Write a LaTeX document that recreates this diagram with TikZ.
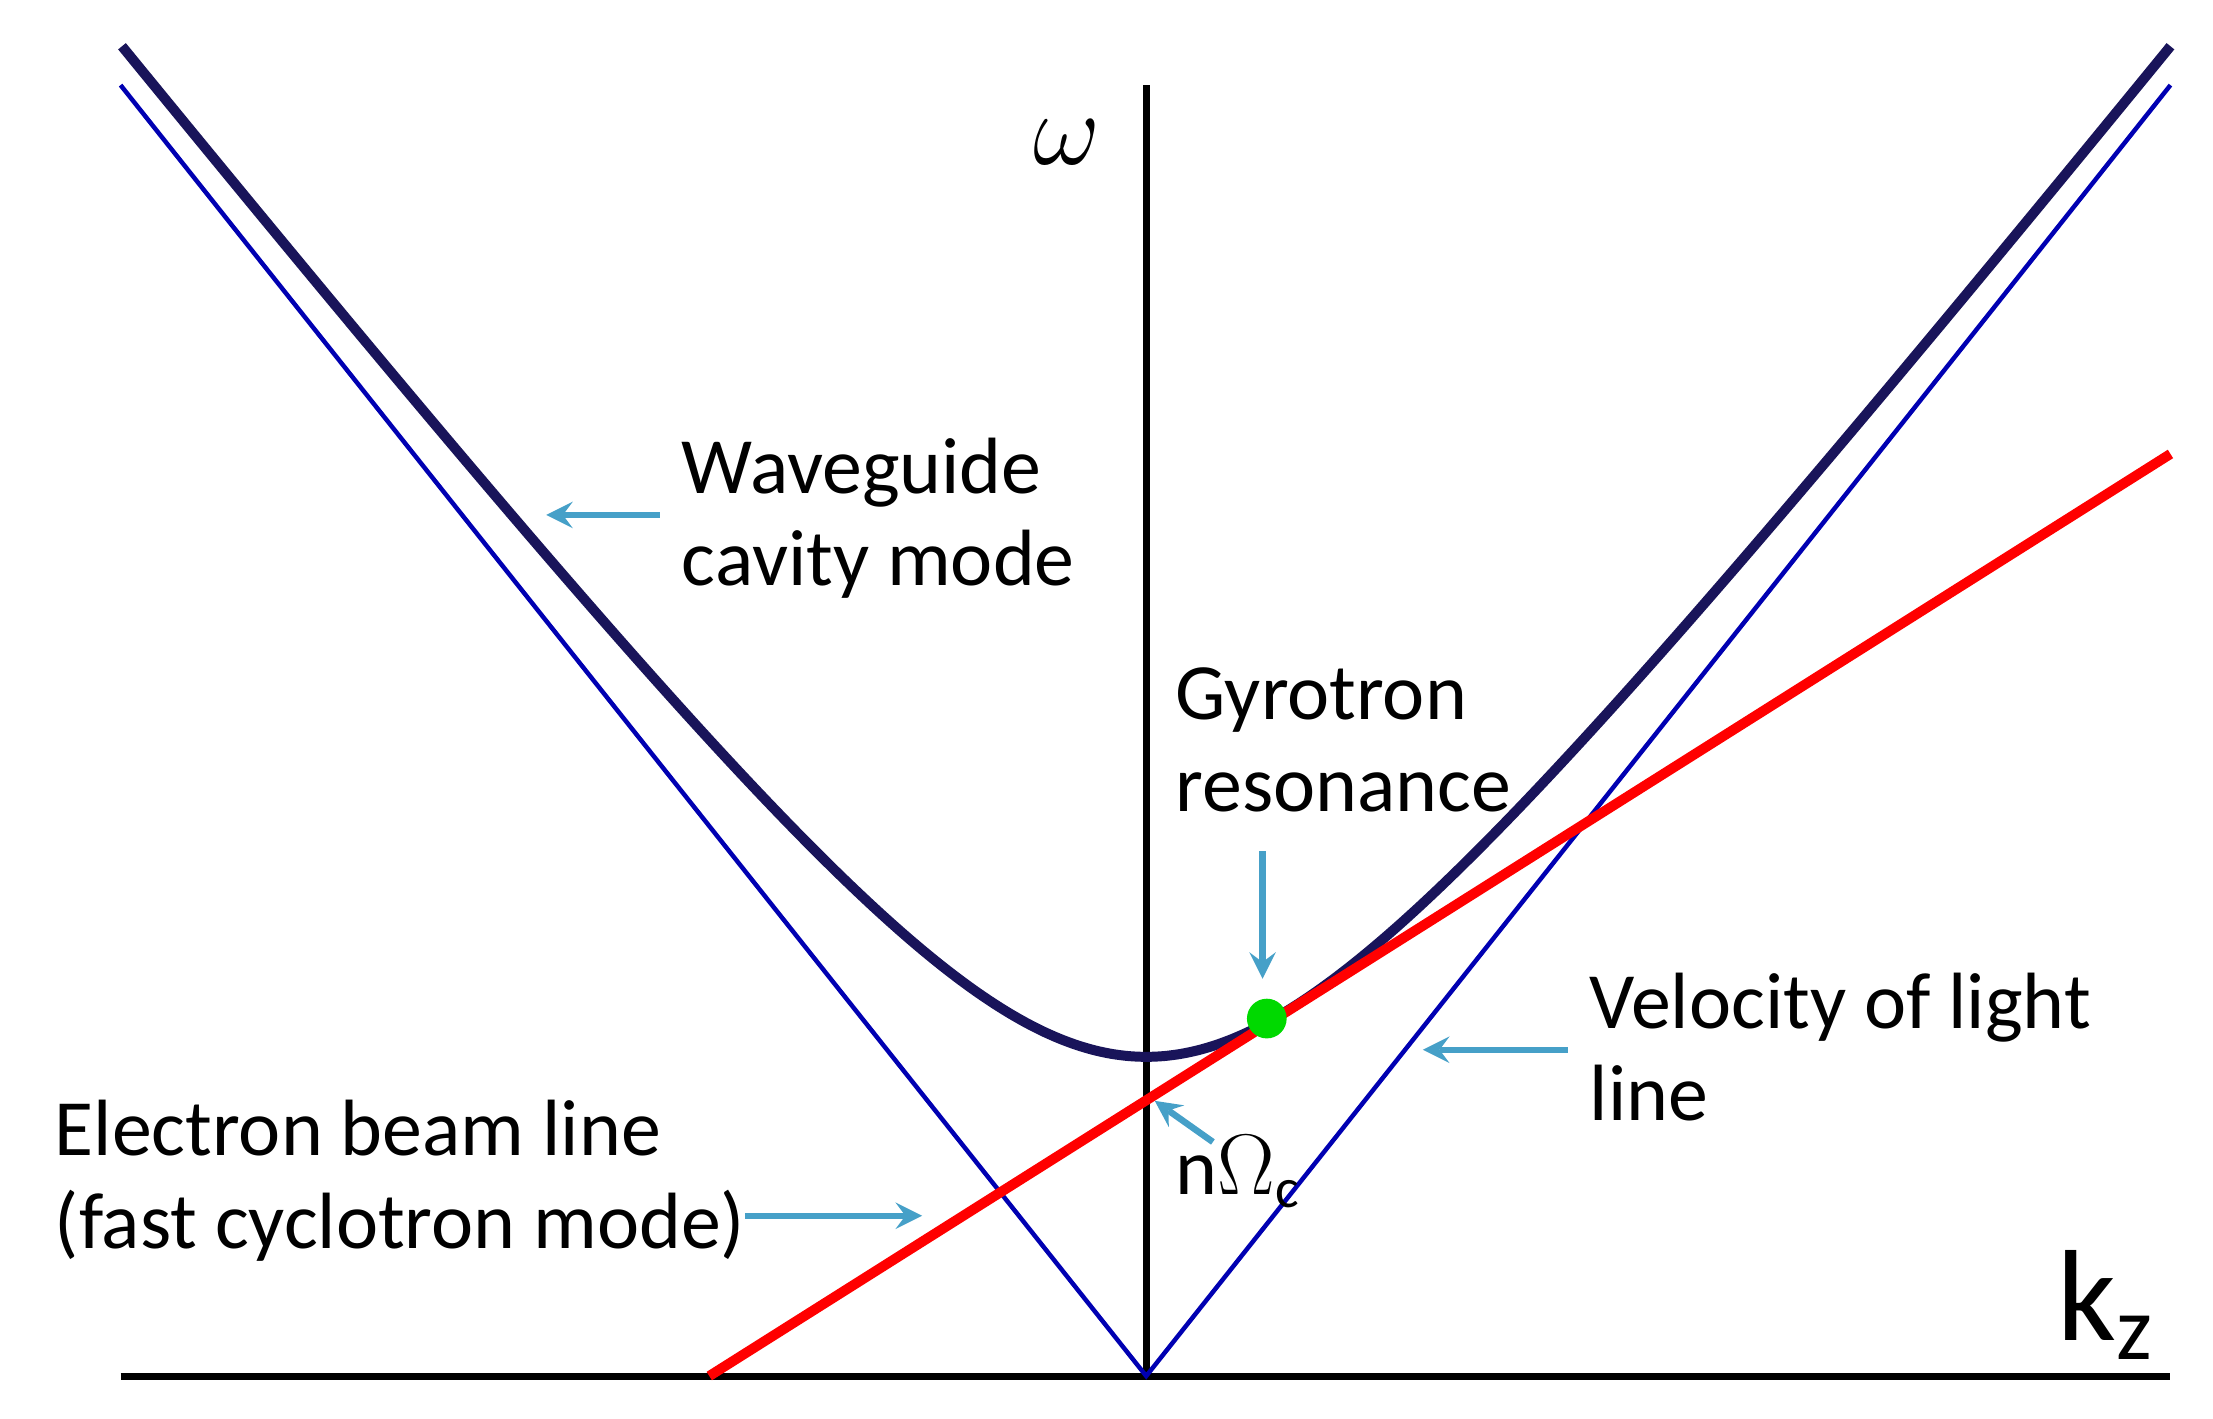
\documentclass[tikz,border=0pt]{standalone}
\usepackage{fontspec}
\setmainfont{Carlito}
\definecolor{lbl}{RGB}{70,160,200}
\definecolor{navy}{RGB}{25,20,90}
\tikzset{lab/.style={anchor=north west,align=left,inner sep=0pt,font=\fontsize{16}{18.5}\selectfont},
  pointer/.style={->,>=stealth,lbl,line width=1.3pt}}
\begin{document}
\begin{tikzpicture}[x=0.01cm,y=-0.01cm]
\useasboundingbox (0,0) rectangle (1560,1000);
% axes
\coordinate (O) at (808,970);
\draw[line width=1.4pt] (85,970)--(1530,970);
\draw[line width=1.4pt] (O)--(808,60);
\node (w) at (752,100) {\fontsize{22}{22}\selectfont$\omega$};
\node (k) at (1485,920) {\fontsize{26}{26}\selectfont k\textsubscript{z}};
% light lines
\draw[blue!70!black,line width=0.9pt] (85,60)--(O)--(1530,60);
% waveguide mode
\draw[navy,line width=2pt] plot[domain=-722:722,samples=121,smooth]
  ({808+\x},{970-100*sqrt(2.25*2.25+(0.0126*\x)*(0.0126*\x))});
% beam line
\draw[red,line width=2pt] (500,970)--(1530,320);
\fill[green!85!black] (893,718) circle (14);
% labels
\node[lab] (wg) at (480,308) {Waveguide\\cavity mode};
\node[lab] (gy) at (828,470) {Gyrotron\\resonance};
\node[lab] (vl) at (1120,685) {Velocity of light\\line};
\node[lab] (eb) at (38,775) {Electron beam line\\(fast cyclotron mode)};
\node[lab] (nw) at (828,800) {n$\Omega$\textsubscript{c}};
\coordinate (wgT) at (385,363);
\coordinate (gyT) at (890,690);
\coordinate (vlT) at (1003,740);
\coordinate (ebT) at (650,857);
\coordinate (nwT) at (814,776);
\draw[pointer] (465,363)--(wgT);
\draw[pointer] (890,600)--(gyT);
\draw[pointer] (1105,740)--(vlT);
\draw[pointer] (525,857)--(ebT);
\draw[pointer] (855,805)--(nwT);
\end{tikzpicture}
\end{document}
